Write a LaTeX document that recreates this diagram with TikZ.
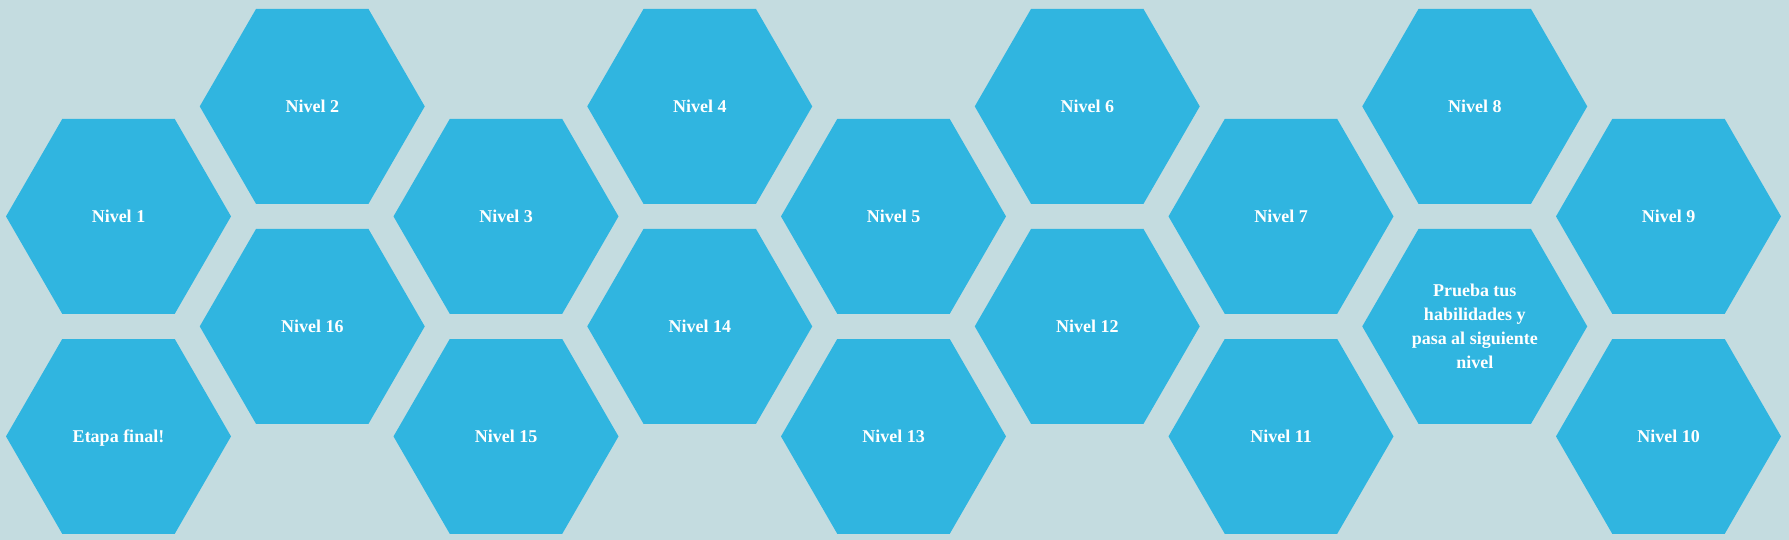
\documentclass[tikz,border=0pt]{standalone}
\usepackage{fontspec}
\setmainfont{Liberation Serif}
\definecolor{bgcol}{HTML}{C4DCE0}
\definecolor{hexcol}{HTML}{30B5E0}
\tikzset{
  hexfill/.style={fill=hexcol},
  hextext/.style={text=white, font=\bfseries\fontsize{18}{24.1}\selectfont, align=center, text depth=0pt, inner sep=0pt, anchor=center}
}
\newcommand\hexcell[4]{%
  \begin{scope}[shift={(#1,#2)}]
    \fill[hexfill] (-112.5,0) -- (-56.25,-97.4) -- (56.25,-97.4) -- (112.5,0) -- (56.25,97.4) -- (-56.25,97.4) -- cycle;
    \node[hextext] (#3) at (0,-0.4) {#4};
  \end{scope}}
\begin{document}
\begin{tikzpicture}[x=1pt,y=-1pt]
  \fill[bgcol] (0,0) rectangle (1789,540);
  \useasboundingbox (0,0) rectangle (1789,540);
  % column 0
  \hexcell{118.5}{216.4}{n1}{Nivel 1}
  \hexcell{118.5}{436.4}{fin}{Etapa final!}
  % column 1
  \hexcell{312.25}{106.4}{n2}{Nivel 2}
  \hexcell{312.25}{326.4}{n16}{Nivel 16}
  % column 2
  \hexcell{506}{216.4}{n3}{Nivel 3}
  \hexcell{506}{436.4}{n15}{Nivel 15}
  % column 3
  \hexcell{699.75}{106.4}{n4}{Nivel 4}
  \hexcell{699.75}{326.4}{n14}{Nivel 14}
  % column 4
  \hexcell{893.5}{216.4}{n5}{Nivel 5}
  \hexcell{893.5}{436.4}{n13}{Nivel 13}
  % column 5
  \hexcell{1087.25}{106.4}{n6}{Nivel 6}
  \hexcell{1087.25}{326.4}{n12}{Nivel 12}
  % column 6
  \hexcell{1281}{216.4}{n7}{Nivel 7}
  \hexcell{1281}{436.4}{n11}{Nivel 11}
  % column 7
  \hexcell{1474.75}{106.4}{n8}{Nivel 8}
  \hexcell{1474.75}{326.4}{prueba}{Prueba tus\\habilidades y\\pasa al siguiente\\nivel}
  % column 8
  \hexcell{1668.5}{216.4}{n9}{Nivel 9}
  \hexcell{1668.5}{436.4}{n10}{Nivel 10}
\end{tikzpicture}
\end{document}
